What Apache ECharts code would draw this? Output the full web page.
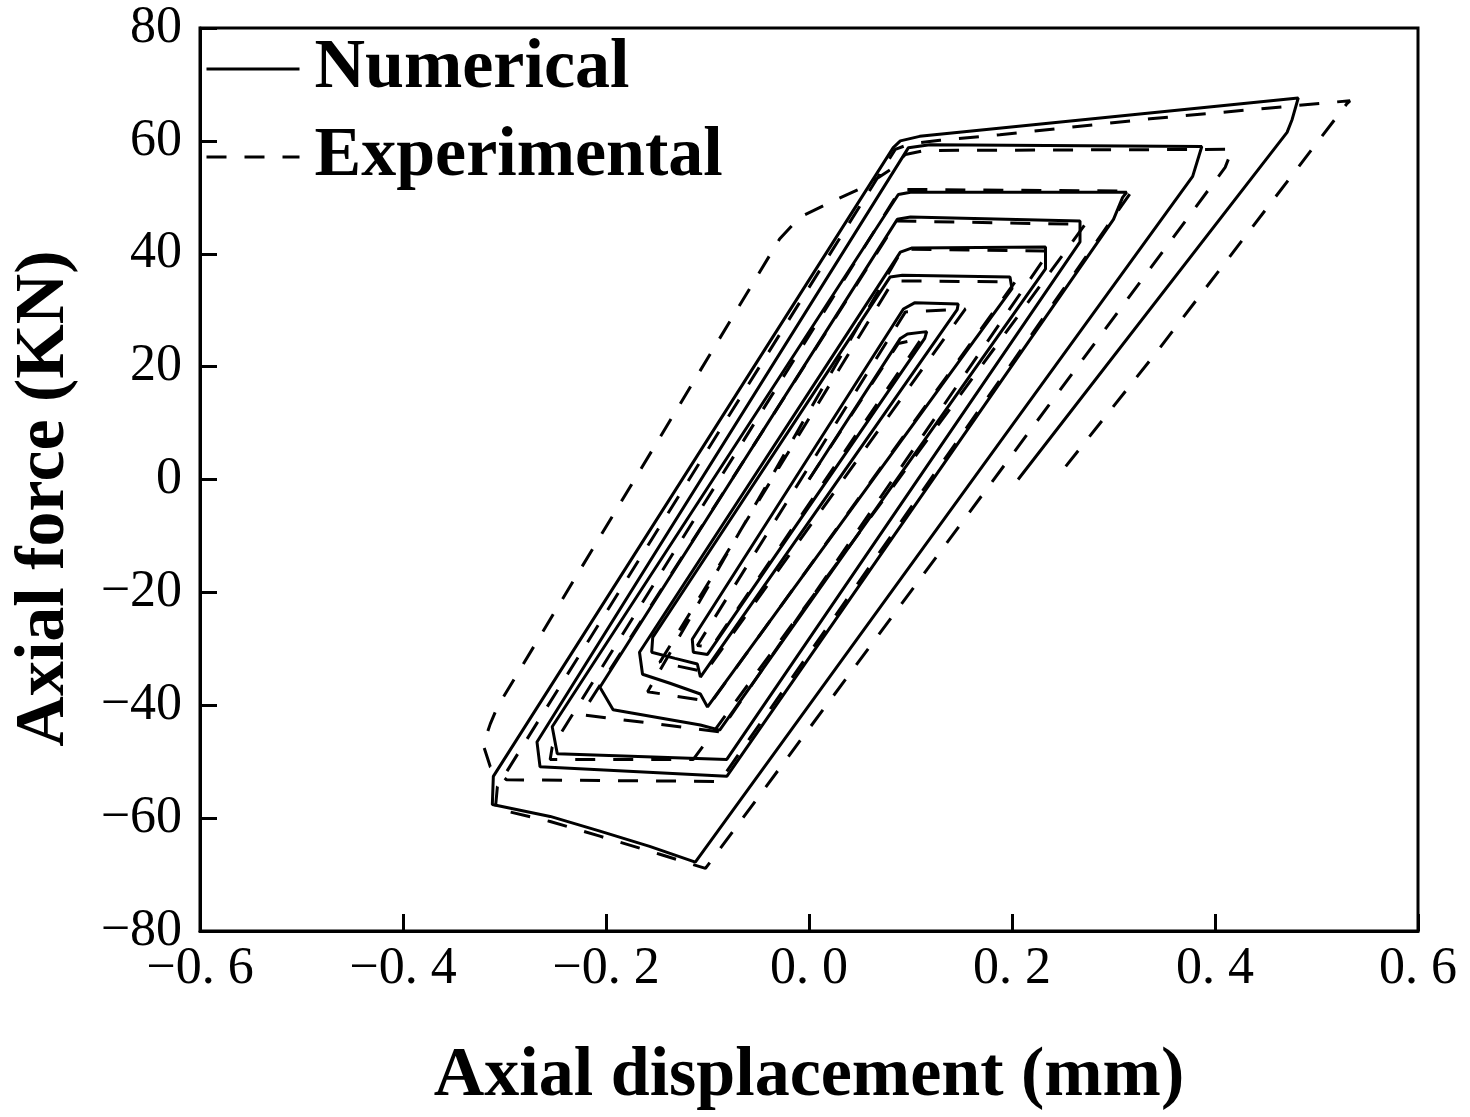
<!DOCTYPE html>
<html>
<head>
<meta charset="utf-8">
<script src="https://cdn.jsdelivr.net/npm/echarts@6/dist/echarts.min.js"></script>
<style>
html,body{margin:0;padding:0;background:#fff;}
#chart{width:1470px;height:1117px;}
</style>
</head>
<body>
<div id="chart"></div>
<script>
// ---- data ----
var xTickLabels = ['\u22120. 6', '\u22120. 4', '\u22120. 2', '0. 0', '0. 2', '0. 4', '0. 6'];
var yTickValues = [-80, -60, -40, -20, 0, 20, 40, 60, 80];

// Numerical (solid) hysteresis path: displacement (mm), force (kN)
var numDisp = [0, 0.090, 0.097, 0.116, 0.114, -0.100, -0.114, -0.115, 0.093, 0.104, 0.147, 0.146,
  -0.107, -0.110, -0.132, -0.155, -0.154, 0.080, 0.092, 0.198, 0.200, -0.100, -0.107, -0.137,
  -0.164, -0.167, 0.090, 0.101, 0.233, 0.233, -0.088, -0.107, -0.193, -0.206, 0.087, 0.100,
  0.267, 0.267, -0.081, -0.248, -0.253, 0.088, 0.100, 0.313, 0.309, 0.300, -0.081, -0.265,
  -0.268, 0.098, 0.119, 0.387, 0.378, -0.112, -0.157, -0.206, -0.255, -0.312, -0.311, 0.083,
  0.090, 0.109, 0.482, 0.476, 0.471, 0.206];
var numForce = [0, 25.0, 25.8, 26.2, 25.0, -31.0, -30.6, -28.3, 30.2, 31.3, 31.1, 30.1,
  -35.0, -32.7, -31.7, -30.6, -28.0, 35.9, 36.2, 35.9, 33.8, -40.3, -38.0, -36.1,
  -34.5, -30.6, 40.3, 41.0, 41.2, 37.3, -44.4, -43.5, -40.8, -36.8, 46.1, 46.5,
  45.8, 42.1, -49.6, -48.6, -43.8, 50.5, 50.9, 50.9, 50.0, 46.1, -52.6, -50.9,
  -46.5, 58.8, 59.3, 59.0, 53.7, -67.8, -65.0, -62.3, -59.7, -57.6, -52.6, 58.8,
  60.0, 60.8, 67.6, 63.8, 61.5, 0];

// Experimental (dashed) hysteresis path
var expDisp = [0, 0.088, 0.111, -0.096, -0.110, 0.095, 0.154, -0.102, -0.147, 0.083, 0.203,
  -0.096, -0.159, 0.092, 0.237, -0.088, -0.223, -0.221, 0.087, 0.272, -0.114, -0.255, -0.253,
  0.090, 0.318, -0.088, -0.298, -0.314, -0.321, -0.314, -0.307, -0.029, -0.009, 0.021, 0.055,
  0.080, 0.095, 0.114, 0.417, 0.410, -0.102, -0.147, -0.206, -0.255, -0.309, -0.307, 0.085,
  0.100, 0.129, 0.188, 0.336, 0.513, 0.533, 0.530, 0.343, 0.244];
var expForce = [0, 24.1, 25.0, -29.7, -29.4, 29.7, 30.2, -34.1, -32.4, 35.2, 35.0,
  -39.4, -37.6, 40.8, 40.5, -44.7, -41.7, -40.7, 45.8, 45.2, -49.6, -49.6, -47.4,
  51.4, 51.1, -53.5, -53.2, -50.9, -47.0, -43.3, -40.3, 42.6, 46.5, 49.1, 51.9,
  54.9, 57.6, 58.3, 58.5, 55.3, -68.9, -66.4, -63.2, -60.6, -58.3, -54.4, 58.5,
  59.5, 60.1, 61.1, 63.9, 66.8, 67.1, 66.6, 22.7, 0.3];

function pairs(xs, ys) {
  var out = [];
  for (var i = 0; i < xs.length; i++) out.push([xs[i], ys[i]]);
  return out;
}

var serif = 'Liberation Serif, Times New Roman, serif';
var chart = echarts.init(document.getElementById('chart'), null, {renderer: 'canvas'});
chart.setOption({
  backgroundColor: '#ffffff',
  animation: false,
  grid: {left: 200, right: 52, top: 28, bottom: 182, show: true, borderColor: '#000', borderWidth: 3, containLabel: false},
  legend: {
    orient: 'vertical', left: 205, top: 34, itemWidth: 93, itemHeight: 14, itemGap: 18, padding: 0,
    data: ['Numerical', 'Experimental'],
    itemStyle: {opacity: 0},
    lineStyle: {width: 3, color: '#000'},
    textStyle: {fontSize: 70, fontWeight: 'bold', fontFamily: serif, color: '#000', padding: [0, 0, 0, 10]}
  },
  xAxis: {
    type: 'value', min: -0.6, max: 0.6, interval: 0.2,
    name: 'Axial displacement (mm)', nameLocation: 'middle', nameGap: 111,
    nameTextStyle: {fontSize: 70, fontWeight: 'bold', fontFamily: serif, color: '#000'},
    axisLine: {show: true, onZero: false, lineStyle: {color: '#000', width: 3}},
    axisTick: {show: true, inside: true, length: 17, lineStyle: {color: '#000', width: 3}},
    splitLine: {show: false},
    axisLabel: {
      margin: 12, fontSize: 52, fontFamily: serif, color: '#000',
      formatter: function (v) { return xTickLabels[Math.round((v + 0.6) / 0.2)]; }
    }
  },
  yAxis: {
    type: 'value', min: yTickValues[0], max: yTickValues[yTickValues.length - 1], interval: 20,
    name: 'Axial force (KN)', nameLocation: 'middle', nameGap: 120,
    nameTextStyle: {fontSize: 70, fontWeight: 'bold', fontFamily: serif, color: '#000', padding: [0, 38, 0, 0]},
    axisLine: {show: true, onZero: false, lineStyle: {color: '#000', width: 3}},
    axisTick: {show: true, inside: true, length: 17, lineStyle: {color: '#000', width: 3}},
    splitLine: {show: false},
    axisLabel: {
      margin: 18, fontSize: 52, fontFamily: serif, color: '#000',
      formatter: function (v) { return v < 0 ? '\u2212' + Math.abs(v) : String(v); }
    }
  },
  series: [
    {
      name: 'Numerical', type: 'line', data: pairs(numDisp, numForce),
      symbol: 'none', showSymbol: false, smooth: false,
      lineStyle: {color: '#000', width: 3, type: 'solid'}, itemStyle: {color: '#000'}, z: 3
    },
    {
      name: 'Experimental', type: 'line', data: pairs(expDisp, expForce),
      symbol: 'none', showSymbol: false, smooth: false,
      lineStyle: {color: '#000', width: 3, type: [20, 18]}, itemStyle: {color: '#000'}, z: 2
    }
  ]
});
</script>
</body>
</html>
